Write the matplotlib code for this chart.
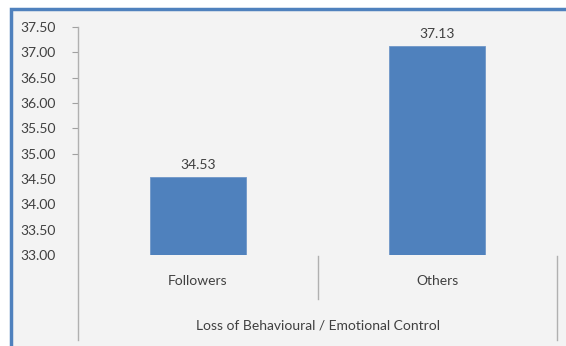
import matplotlib
matplotlib.use("Agg")
import matplotlib.pyplot as plt
from matplotlib.patches import Rectangle
from matplotlib.lines import Line2D

categories = ["Followers", "Others"]
values = [34.53, 37.13]
group_label = "Loss of Behavioural / Emotional Control"
y_ticks = [33.0, 33.5, 34.0, 34.5, 35.0, 35.5, 36.0, 36.5, 37.0, 37.5]

plt.rcParams['font.family'] = ['Lato', 'DejaVu Sans']
W, H = 566, 346
fig = plt.figure(figsize=(W / 100, H / 100), dpi=100)
fig.patch.set_facecolor('white')

# chart area background with blue border
fig.add_artist(Rectangle((11 / W, -0.05), 1.0, 1 - 9 / H + 0.05, transform=fig.transFigure,
                         facecolor='#f3f3f3', edgecolor='#4f81bd', linewidth=2.5, zorder=-5))

ax = fig.add_axes([78 / W, 1 - 255 / H, (557 - 78) / W, (255 - 27) / H])
ax.set_facecolor('none')
x = list(range(len(categories)))
ax.bar(x, values, width=0.4, bottom=0, color='#4f81bd', edgecolor='#6f97c8', linewidth=0.6)
ax.set_xlim(-0.5, 1.5)
ax.set_ylim(33, 37.5)
ax.set_yticks(y_ticks)
ax.set_yticklabels([f"{v:.2f}" for v in y_ticks])
for s in ax.spines.values():
    s.set_visible(False)
ax.tick_params(axis='y', length=4, color='#a0a0a0', labelsize=10, labelcolor='#404040', pad=12)
ax.tick_params(axis='x', length=0, labelbottom=False)
for t, v in zip(ax.yaxis.get_major_ticks(), y_ticks):
    if v < 35.0:
        t.tick1line.set_visible(False)

for xi, v in zip(x, values):
    ax.text(xi, v + 0.12, f"{v:.2f}", ha='center', va='bottom', fontsize=10, color='#404040')

# axis line and category separators in figure pixels
def fline(x0, y0, x1, y1):
    fig.add_artist(Line2D([x0 / W, x1 / W], [1 - y0 / H, 1 - y1 / H], transform=fig.transFigure,
                          color='#b0b0b0', linewidth=1.0))

fline(78, 27, 78, 340)
fline(318, 256, 318, 299)
fline(557, 256, 557, 340)

for xi, c in zip(x, categories):
    ax.text(xi, -0.115, c, transform=ax.get_xaxis_transform(), ha='center', va='center',
            fontsize=10, color='#404040')
ax.text(0.5, -0.31, group_label, transform=ax.transAxes, ha='center', va='center',
        fontsize=10, color='#404040')

fig.savefig("out.png", dpi=100)
